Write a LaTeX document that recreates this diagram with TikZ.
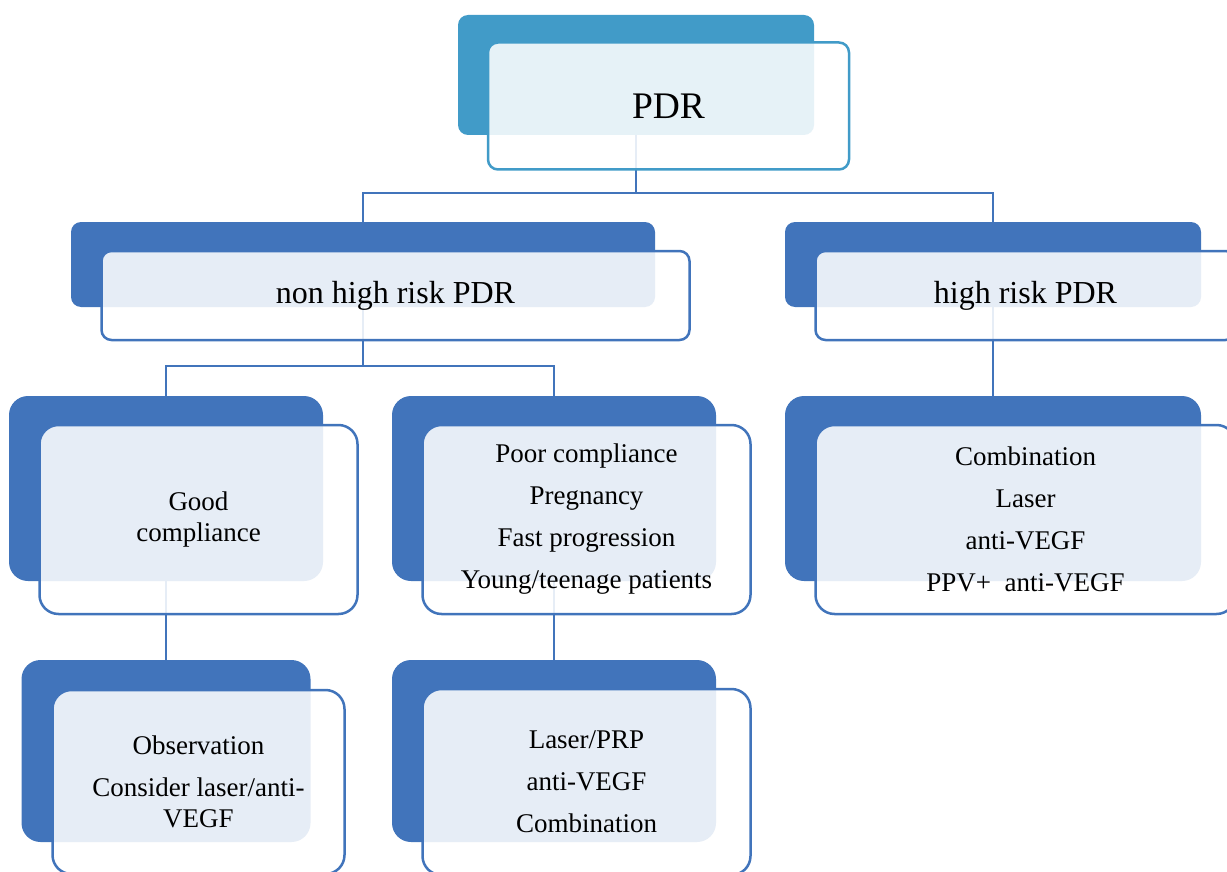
\documentclass[tikz,border=0pt]{standalone}
\usepackage{fontspec}
\setmainfont{Liberation Serif}

\begin{document}
\begin{tikzpicture}[x=1pt,y=-1pt]
\definecolor{box color}{RGB}{65,116,187}
\definecolor{top color}{RGB}{65,155,200}
\tikzset{
  back/.style={rectangle,rounded corners=#1,fill=box color,inner sep=0pt},
  front/.style={rectangle,rounded corners=#1,draw=box color,line width=2.5pt,
    fill=white,fill opacity=.87,text opacity=1,inner sep=0pt,align=center,
    xshift=32.5pt,yshift=-31pt},
  link/.style={box color,line width=2.5pt},
  title text/.style={font=\fontsize{37.5}{44}\selectfont},
  branch text/.style={font=\fontsize{32}{38}\selectfont},
  leaf text/.style={font=\fontsize{27}{31.5}\selectfont}
}
\useasboundingbox (0,0) rectangle (1227,872);
\clip (0,0) rectangle (1227,872);

%BACK PLATES
\node[back=10pt,fill=top color,minimum width=356pt,minimum height=120pt] (PDR) at (636,75) {};
\node[back=10pt,minimum width=584pt,minimum height=85pt] (NHR) at (363,264.5) {};
\node[back=10pt,minimum width=416pt,minimum height=85pt] (HR) at (993,264.5) {};
\node[back=19pt,minimum width=314pt,minimum height=185pt] (GOOD) at (166,488.5) {};
\node[back=19pt,minimum width=324pt,minimum height=185pt] (POOR) at (554,488.5) {};
\node[back=19pt,minimum width=416pt,minimum height=185pt] (COMB) at (993,488.5) {};
\node[back=19pt,minimum width=289pt,minimum height=182pt] (OBS) at (166,751) {};
\node[back=19pt,minimum width=324pt,minimum height=182pt] (LASER) at (554,751) {};

%LINKS
\coordinate (J1) at (636,193);
\coordinate (J2) at (363,366);
\draw[link] (PDR.south) -- (J1) -| (NHR.north);
\draw[link] (J1) -| (HR.north);
\draw[link] (NHR.south) -- (J2) -| (GOOD.north);
\draw[link] (J2) -| (POOR.north);
\draw[link] (HR.south) -- (COMB.north);
\draw[link] (GOOD.south) -- (OBS.north);
\draw[link] (POOR.south) -- (LASER.north);

%TEXT PANELS
\node[front=10pt,draw=top color,title text,minimum width=361pt,minimum height=127pt] (PDRtxt) at (PDR) {PDR};
\node[front=10pt,branch text,minimum width=588pt,minimum height=89pt] (NHRtxt) at (NHR) {non high risk PDR};
\node[front=10pt,branch text,minimum width=420pt,minimum height=89pt] (HRtxt) at (HR) {high risk PDR};
\node[front=19pt,leaf text,minimum width=318pt,minimum height=189pt] (GOODtxt) at (GOOD) {Good\\compliance};
\node[front=19pt,leaf text,minimum width=328pt,minimum height=189pt] (POORtxt) at (POOR)
  {Poor compliance\\[10.5pt]Pregnancy\\[10.5pt]Fast progression\\[10.5pt]Young/teenage patients};
\node[front=19pt,leaf text,minimum width=420pt,minimum height=189pt] (COMBtxt) at (COMB)
  {Combination\\[10.5pt]Laser\\[10.5pt]anti-VEGF\\[10.5pt]PPV+~ anti-VEGF};
\node[front=19pt,leaf text,minimum width=292pt,minimum height=184pt] (OBStxt) at (OBS)
  {Observation\\[10.5pt]Consider laser/anti-\\VEGF};
\node[front=19pt,leaf text,minimum width=328pt,minimum height=186pt] (LASERtxt) at (LASER)
  {Laser/PRP\\[10.5pt]anti-VEGF\\[10.5pt]Combination};

\end{tikzpicture}
\end{document}
